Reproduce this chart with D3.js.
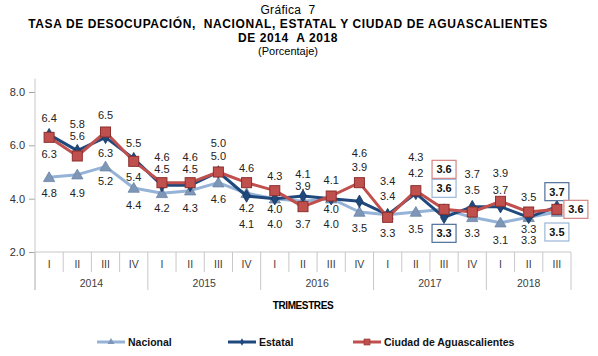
<!DOCTYPE html>
<html><head><meta charset="utf-8">
<script src="https://cdn.jsdelivr.net/npm/d3@7/dist/d3.min.js"></script>
<style>body{margin:0;background:#fff}svg{display:block;font-family:"Liberation Sans",Arial,sans-serif}text{white-space:pre}</style>
</head><body><svg id="c" width="598" height="356"></svg>
<script>
// ---- data ----
const years = ["2014","2015","2016","2017","2018"];
const quarters = ["I","II","III","IV","I","II","III","IV","I","II","III","IV","I","II","III","IV","I","II","III"];
const quarterYear = [0,0,0,0,1,1,1,1,2,2,2,2,3,3,3,3,4,4,4];
const nacional = [4.8,4.9,5.2,4.4,4.2,4.3,4.6,4.2,4.0,3.9,4.0,3.5,3.4,3.5,3.6,3.3,3.1,3.3,3.5];
const estatal  = [6.4,5.8,6.3,5.5,4.5,4.5,5.0,4.1,4.0,4.1,4.0,3.9,3.4,4.2,3.3,3.7,3.7,3.3,3.7];
const ciudad   = [6.3,5.6,6.5,5.4,4.6,4.6,5.0,4.6,4.3,3.7,4.1,4.6,3.3,4.3,3.6,3.5,3.9,3.5,3.6];
const yTicks = [2,4,6,8];
const seriesNames = ["Nacional","Estatal","Ciudad de Aguascalientes"];
const boxedIdx = [14,18];

// ---- label layout (pixel offsets of value labels from their points) ----
const dyNac = [16,18,14,17,15,17,16,15,10,-15,10,16,-19,17,-21,16,17,23,20];
const dyEst = [-17,-27,16,-16,-16,-16,-16,28,25,-22,25,-34,-34,-20,16,-33,-17,12,-15];
const dyCiu = [17,-20,-17,16,-26,-26,-29,-15,-15,17,-16,-30,16,-34,-40,-22,-28,-15,0];
const dxCiu = [0,0,0,0,0,0,0,0,0,0,0,0,0,0,0,0,0,0,19];

const svg = d3.select("#c");
const L = 35, R = 571, B = 252;
const x = d3.scaleBand().domain(d3.range(quarters.length)).range([L,R]).padding(0);
const y = d3.scaleLinear().domain([2,8]).range([B,92]);

// titles
const T = svg.append("g").attr("text-anchor","middle").attr("fill","#000");
T.append("text").attr("x",288).attr("y",14).attr("font-size",12).attr("letter-spacing","0.3").text("Gráfica  7");
T.append("text").attr("x",288).attr("y",28).attr("font-size",12).attr("font-weight","bold").attr("letter-spacing","0.6").text("TASA DE DESOCUPACIÓN,  NACIONAL, ESTATAL Y CIUDAD DE AGUASCALIENTES");
T.append("text").attr("x",288).attr("y",42).attr("font-size",12).attr("font-weight","bold").attr("letter-spacing","0.6").text("DE 2014  A 2018");
T.append("text").attr("x",288).attr("y",55).attr("font-size",11).text("(Porcentaje)");

// y axis
const yAxis = svg.append("g").attr("transform",`translate(${L},0)`)
  .call(d3.axisLeft(y).tickValues(yTicks).tickFormat(d3.format(".1f")).tickSize(6).tickPadding(4));
yAxis.select(".domain").remove();
yAxis.selectAll(".tick line").attr("stroke","#a6a6a6");
yAxis.selectAll("text").attr("font-size",11).attr("fill","#333").attr("font-family","Liberation Sans, Arial");
svg.append("line").attr("x1",L).attr("x2",L).attr("y1",y(8.5)).attr("y2",290).attr("stroke","#c8c8c8");

// x axis
svg.append("line").attr("x1",L).attr("x2",R).attr("y1",B).attr("y2",B).attr("stroke","#c8c8c8");
const gx = svg.append("g");
quarters.forEach((q,i)=>{
  const x0 = x(i);
  const yearStart = i===0 || quarterYear[i]!==quarterYear[i-1];
  gx.append("line").attr("x1",x0).attr("x2",x0).attr("y1",B).attr("y2",yearStart?290:272).attr("stroke","#c8c8c8");
  gx.append("text").attr("x",x0+x.bandwidth()/2).attr("y",268).attr("text-anchor","middle")
    .attr("font-size",10.5).attr("fill","#404040").text(q);
});
gx.append("line").attr("x1",R).attr("x2",R).attr("y1",B).attr("y2",290).attr("stroke","#c8c8c8");
years.forEach((yr,k)=>{
  const idx = quarterYear.map((v,i)=>v===k?i:-1).filter(i=>i>=0);
  const cx = (x(idx[0]) + x(idx[idx.length-1]) + x.bandwidth())/2;
  gx.append("text").attr("x",cx).attr("y",287).attr("text-anchor","middle")
    .attr("font-size",10.5).attr("fill","#404040").text(yr);
});
svg.append("text").attr("x",(L+R)/2).attr("y",309).attr("text-anchor","middle")
  .attr("font-size",10).attr("font-weight","bold").attr("letter-spacing","-0.4").text("TRIMESTRES");

// series
const cx = i => x(i)+x.bandwidth()/2;
const S = [
  {name:seriesNames[0], v:nacional, color:"#95b3d7", mk:"tri", dy:dyNac, box:"#9ab6d8"},
  {name:seriesNames[1], v:estatal, color:"#1f497d", mk:"dia", dy:dyEst, box:"#4f6f99"},
  {name:seriesNames[2], v:ciudad, color:"#c0504d", mk:"sq", dy:dyCiu, dx:dxCiu, box:"#d58482"}
];
const line = d3.line().x((d,i)=>cx(i)).y(d=>y(d));
function marker(g, type, px, py){
  if(type==="tri") g.append("path").attr("d",d3.symbol(d3.symbolTriangle,55)()).attr("transform",`translate(${px},${py+1})`)
    .attr("fill","#7f97b6").attr("stroke","#6a84a6").attr("stroke-width",0.8);
  else if(type==="dia") g.append("path").attr("d",d3.symbol(d3.symbolDiamond,45)()).attr("transform",`translate(${px},${py})`)
    .attr("fill","#1f497d").attr("stroke","#17365d").attr("stroke-width",0.8);
  else g.append("rect").attr("x",px-5).attr("y",py-5).attr("width",10).attr("height",10)
    .attr("fill","#c0504d").attr("stroke","#8c2f2d").attr("stroke-width",1);
}
S.forEach(s=>{
  const g = svg.append("g");
  g.append("path").datum(s.v).attr("d",line).attr("fill","none").attr("stroke",s.color).attr("stroke-width",3).attr("stroke-linejoin","round");
  s.v.forEach((v,i)=>marker(g,s.mk,cx(i),y(v)));
});
// labels
const LG = svg.append("g").attr("text-anchor","middle");
S.forEach(s=>{
  s.v.forEach((v,i)=>{
    const px = cx(i)+(s.dx?s.dx[i]:0), py = y(v)+s.dy[i];
    if(boxedIdx.includes(i)){
      LG.append("rect").attr("x",px-12).attr("y",py-9).attr("width",24).attr("height",18)
        .attr("fill","#fff").attr("stroke",s.box).attr("stroke-width",1.2);
      LG.append("text").attr("x",px).attr("y",py+4).attr("font-size",11).attr("font-weight","bold").attr("fill","#111").text(v.toFixed(1));
    } else {
      LG.append("text").attr("x",px).attr("y",py+4).attr("font-size",11).attr("fill","#222").text(v.toFixed(1));
    }
  });
});

// legend
const legX = [97,228,353];
S.forEach((s,k)=>{
  const g = svg.append("g");
  g.append("line").attr("x1",legX[k]).attr("x2",legX[k]+28).attr("y1",342).attr("y2",342).attr("stroke",s.color).attr("stroke-width",3);
  const m = svg.append("g").attr("transform",`translate(${legX[k]+14},342) scale(0.6)`);
  if(s.mk==="tri") m.append("path").attr("d",d3.symbol(d3.symbolTriangle,55)()).attr("fill","#7f97b6");
  else if(s.mk==="dia") m.append("path").attr("d",d3.symbol(d3.symbolDiamond,45)()).attr("fill","#1f497d");
  else m.append("rect").attr("x",-5).attr("y",-5).attr("width",10).attr("height",10).attr("fill","#c0504d").attr("stroke","#8c2f2d");
  g.append("text").attr("x",legX[k]+31).attr("y",346).attr("font-size",10.5).attr("font-weight","bold").attr("fill","#111").text(s.name);
});
</script></body></html>
